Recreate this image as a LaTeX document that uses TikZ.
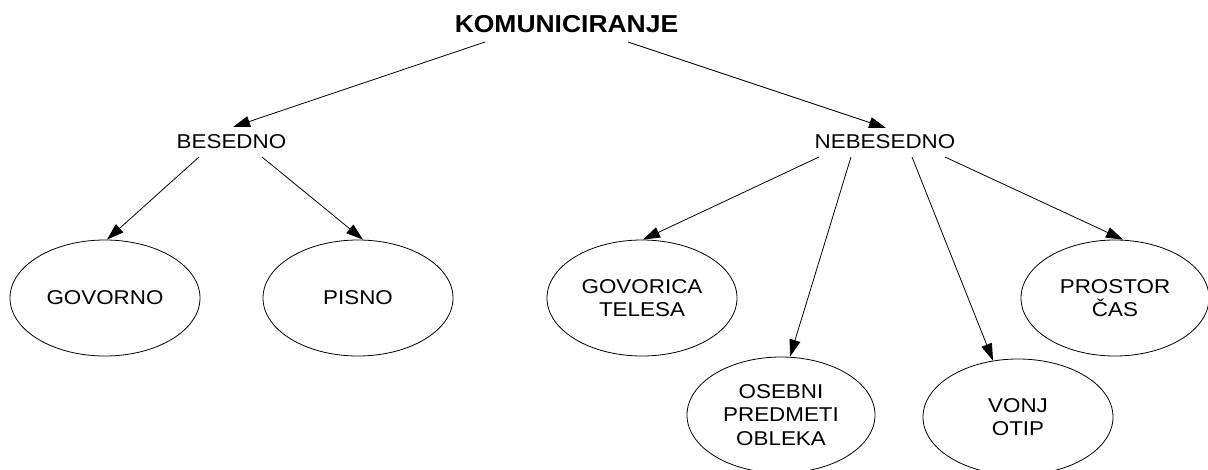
\documentclass[tikz,border=0pt]{standalone}
\usepackage{fontspec}
\setmainfont{Liberation Sans}[FakeStretch=1.12]
\newfontfamily\titlefont{Liberation Sans}[FakeStretch=1.08]
\usetikzlibrary{arrows.meta,calc,shapes.geometric}
\begin{document}
\begin{tikzpicture}[x=1pt,y=-1pt,
  lbl/.style={inner sep=0pt, font=\fontsize{20}{23.5}\selectfont, align=center},
  oval/.style={ellipse, draw, line width=0.8pt, minimum width=190pt, minimum height=116pt,
               inner sep=0pt, font=\fontsize{20}{23.5}\selectfont, align=center},
  conn/.style={line width=0.8pt, -{Triangle[length=17pt,width=11pt]}}]
\clip (0,0) rectangle (1208,469);
\fill[white] (0,0) rectangle (1208,469);

\node[inner sep=0pt, font=\titlefont\bfseries\fontsize{24.5}{28}\selectfont] (komu) at (566.5,24) {KOMUNICIRANJE};
\node[lbl] (bes) at (231.5,142) {BESEDNO};
\node[lbl] (neb) at (885,142) {NEBESEDNO};

\node[oval] (gov) at (105,298) {GOVORNO};
\node[oval] (pis) at (358,298) {PISNO};
\node[oval] (gt)  at (642,298) {GOVORICA\\TELESA};
\node[oval, minimum width=188pt] (pro) at (1115,298) {PROSTOR\\ČAS};
\node[oval, minimum width=188pt] (ose) at (781,415) {OSEBNI\\PREDMETI\\OBLEKA};
\node[oval] (vonj) at (1018,417) {VONJ\\OTIP};

\draw[conn] ($(komu)+(-81.5,18)$) -- ($(bes)+(1.5,-15)$);
\draw[conn] ($(komu)+(61.5,18)$) -- ($(neb)+(1,-14)$);

\draw[conn] ($(bes)+(-32.5,15)$) -- ($(gov.north)+(2,0)$);
\draw[conn] ($(bes)+(30.5,15)$) -- ($(pis.north)+(5,0)$);

\draw[conn] ($(neb)+(-66,15)$) -- ($(gt.north)+(1,0)$);
\draw[conn] ($(neb)+(-34,15)$) -- ($(ose.north)+(9,0)$);
\draw[conn] ($(neb)+(27,15)$) -- ($(vonj.north)+(-25,2)$);
\draw[conn] ($(neb)+(60,15)$) -- ($(pro.north)+(8,0)$);
\end{tikzpicture}
\end{document}
